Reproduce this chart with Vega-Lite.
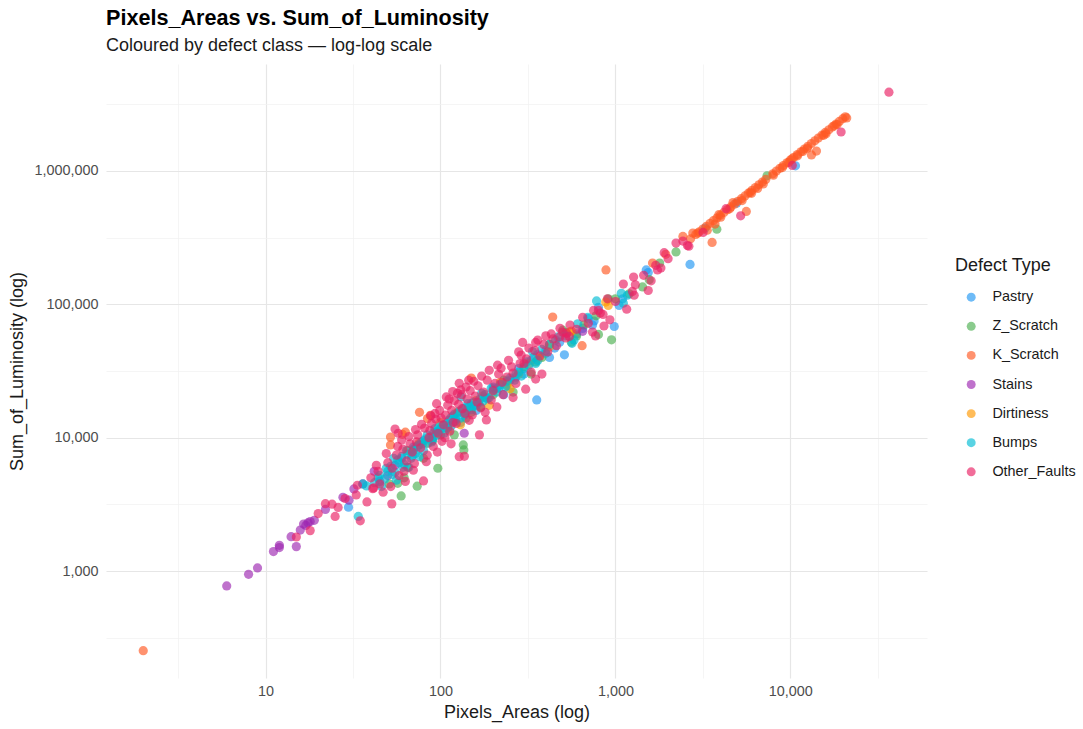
{
  "$schema": "https://vega.github.io/schema/vega-lite/v6.json",
  "width": 821,
  "height": 614,
  "autosize": {"type": "none"},
  "padding": {"left": 106, "top": 64, "right": 156, "bottom": 51},
  "background": "white",
  "title": {
    "text": "Pixels_Areas vs. Sum_of_Luminosity",
    "subtitle": "Coloured by defect class — log-log scale",
    "anchor": "start",
    "frame": "group",
    "offset": 9,
    "font": "Liberation Sans",
    "fontSize": 21.6,
    "fontWeight": "bold",
    "color": "#000000",
    "subtitleFont": "Liberation Sans",
    "subtitleFontSize": 18,
    "subtitleColor": "#1a1a1a",
    "subtitlePadding": 7
  },
  "config": {
    "view": {"stroke": null},
    "axis": {
      "domain": false,
      "ticks": false,
      "labelFont": "Liberation Sans",
      "labelFontSize": 14.4,
      "labelColor": "#4d4d4d",
      "titleFont": "Liberation Sans",
      "titleFontSize": 18,
      "titleFontWeight": "normal",
      "titleColor": "#1a1a1a",
      "labelOverlap": false,
      "labelFlush": false
    }
  },
  "data": {
    "values": [
      {"area": 29.8, "lum": 3010, "type": "Pastry"},
      {"area": 355, "lum": 19200, "type": "Pastry"},
      {"area": 511, "lum": 41800, "type": "Pastry"},
      {"area": 985, "lum": 68200, "type": "Pastry"},
      {"area": 755, "lum": 75000, "type": "Pastry"},
      {"area": 740, "lum": 70000, "type": "Pastry"},
      {"area": 1500, "lum": 181000, "type": "Pastry"},
      {"area": 1540, "lum": 173000, "type": "Pastry"},
      {"area": 2670, "lum": 199000, "type": "Pastry"},
      {"area": 3260, "lum": 373000, "type": "Pastry"},
      {"area": 4930, "lum": 574000, "type": "Pastry"},
      {"area": 10700, "lum": 1094000, "type": "Pastry"},
      {"area": 120, "lum": 15000, "type": "Pastry"},
      {"area": 150, "lum": 18000, "type": "Pastry"},
      {"area": 180, "lum": 20000, "type": "Pastry"},
      {"area": 200, "lum": 24000, "type": "Pastry"},
      {"area": 250, "lum": 27000, "type": "Pastry"},
      {"area": 280, "lum": 33000, "type": "Pastry"},
      {"area": 300, "lum": 30000, "type": "Pastry"},
      {"area": 330, "lum": 38000, "type": "Pastry"},
      {"area": 400, "lum": 45000, "type": "Pastry"},
      {"area": 420, "lum": 40000, "type": "Pastry"},
      {"area": 450, "lum": 47000, "type": "Pastry"},
      {"area": 480, "lum": 52000, "type": "Pastry"},
      {"area": 600, "lum": 60000, "type": "Pastry"},
      {"area": 650, "lum": 66000, "type": "Pastry"},
      {"area": 700, "lum": 78000, "type": "Pastry"},
      {"area": 800, "lum": 95000, "type": "Pastry"},
      {"area": 1100, "lum": 110000, "type": "Pastry"},
      {"area": 1050, "lum": 98000, "type": "Pastry"},
      {"area": 95, "lum": 11000, "type": "Pastry"},
      {"area": 80, "lum": 9500, "type": "Pastry"},
      {"area": 60, "lum": 7000, "type": "Pastry"},
      {"area": 70, "lum": 8500, "type": "Pastry"},
      {"area": 110, "lum": 12500, "type": "Pastry"},
      {"area": 130, "lum": 13000, "type": "Pastry"},
      {"area": 230, "lum": 21000, "type": "Pastry"},
      {"area": 160, "lum": 16000, "type": "Pastry"},
      {"area": 90, "lum": 10000, "type": "Pastry"},
      {"area": 140, "lum": 16800, "type": "Pastry"},
      {"area": 210, "lum": 23500, "type": "Pastry"},
      {"area": 270, "lum": 28500, "type": "Pastry"},
      {"area": 360, "lum": 42000, "type": "Pastry"},

      {"area": 59.6, "lum": 3660, "type": "Z_Scratch"},
      {"area": 73.6, "lum": 4330, "type": "Z_Scratch"},
      {"area": 96.6, "lum": 5900, "type": "Z_Scratch"},
      {"area": 135, "lum": 8830, "type": "Z_Scratch"},
      {"area": 136, "lum": 8100, "type": "Z_Scratch"},
      {"area": 500, "lum": 64000, "type": "Z_Scratch"},
      {"area": 950, "lum": 54200, "type": "Z_Scratch"},
      {"area": 775, "lum": 82000, "type": "Z_Scratch"},
      {"area": 800, "lum": 59500, "type": "Z_Scratch"},
      {"area": 520, "lum": 61500, "type": "Z_Scratch"},
      {"area": 1560, "lum": 153000, "type": "Z_Scratch"},
      {"area": 1430, "lum": 135000, "type": "Z_Scratch"},
      {"area": 910, "lum": 110000, "type": "Z_Scratch"},
      {"area": 1790, "lum": 204000, "type": "Z_Scratch"},
      {"area": 2220, "lum": 247000, "type": "Z_Scratch"},
      {"area": 3800, "lum": 366000, "type": "Z_Scratch"},
      {"area": 7360, "lum": 920000, "type": "Z_Scratch"},
      {"area": 51, "lum": 4500, "type": "Z_Scratch"},
      {"area": 57, "lum": 4550, "type": "Z_Scratch"},
      {"area": 70, "lum": 8000, "type": "Z_Scratch"},
      {"area": 90, "lum": 9500, "type": "Z_Scratch"},
      {"area": 110, "lum": 12000, "type": "Z_Scratch"},
      {"area": 140, "lum": 14000, "type": "Z_Scratch"},
      {"area": 170, "lum": 17000, "type": "Z_Scratch"},
      {"area": 200, "lum": 21000, "type": "Z_Scratch"},
      {"area": 240, "lum": 24500, "type": "Z_Scratch"},
      {"area": 260, "lum": 22000, "type": "Z_Scratch"},
      {"area": 300, "lum": 34000, "type": "Z_Scratch"},
      {"area": 330, "lum": 30000, "type": "Z_Scratch"},
      {"area": 380, "lum": 40000, "type": "Z_Scratch"},
      {"area": 420, "lum": 50000, "type": "Z_Scratch"},
      {"area": 560, "lum": 52000, "type": "Z_Scratch"},
      {"area": 600, "lum": 58000, "type": "Z_Scratch"},
      {"area": 660, "lum": 70000, "type": "Z_Scratch"},
      {"area": 1000, "lum": 110000, "type": "Z_Scratch"},
      {"area": 1200, "lum": 120000, "type": "Z_Scratch"},
      {"area": 80, "lum": 7000, "type": "Z_Scratch"},
      {"area": 65, "lum": 6000, "type": "Z_Scratch"},
      {"area": 120, "lum": 10500, "type": "Z_Scratch"},
      {"area": 100, "lum": 10500, "type": "Z_Scratch"},
      {"area": 150, "lum": 15500, "type": "Z_Scratch"},
      {"area": 230, "lum": 27000, "type": "Z_Scratch"},
      {"area": 350, "lum": 37000, "type": "Z_Scratch"},
      {"area": 75, "lum": 8800, "type": "Z_Scratch"},
      {"area": 62, "lum": 5000, "type": "Z_Scratch"},

      {"area": 2, "lum": 253, "type": "K_Scratch"},
      {"area": 51.8, "lum": 8830, "type": "K_Scratch"},
      {"area": 51.8, "lum": 10100, "type": "K_Scratch"},
      {"area": 63, "lum": 11000, "type": "K_Scratch"},
      {"area": 60.6, "lum": 10600, "type": "K_Scratch"},
      {"area": 75.9, "lum": 15500, "type": "K_Scratch"},
      {"area": 87.6, "lum": 14700, "type": "K_Scratch"},
      {"area": 84.3, "lum": 13900, "type": "K_Scratch"},
      {"area": 150, "lum": 28000, "type": "K_Scratch"},
      {"area": 438, "lum": 80200, "type": "K_Scratch"},
      {"area": 645, "lum": 49000, "type": "K_Scratch"},
      {"area": 883, "lum": 181000, "type": "K_Scratch"},
      {"area": 1630, "lum": 204000, "type": "K_Scratch"},
      {"area": 1940, "lum": 237000, "type": "K_Scratch"},
      {"area": 2430, "lum": 323000, "type": "K_Scratch"},
      {"area": 2770, "lum": 342000, "type": "K_Scratch"},
      {"area": 2960, "lum": 342000, "type": "K_Scratch"},
      {"area": 3570, "lum": 291000, "type": "K_Scratch"},
      {"area": 2690, "lum": 310000, "type": "K_Scratch"},
      {"area": 2880, "lum": 334000, "type": "K_Scratch"},
      {"area": 3020, "lum": 350000, "type": "K_Scratch"},
      {"area": 3160, "lum": 367000, "type": "K_Scratch"},
      {"area": 3310, "lum": 385000, "type": "K_Scratch"},
      {"area": 3470, "lum": 404000, "type": "K_Scratch"},
      {"area": 3630, "lum": 424000, "type": "K_Scratch"},
      {"area": 3800, "lum": 444000, "type": "K_Scratch"},
      {"area": 3980, "lum": 466000, "type": "K_Scratch"},
      {"area": 4170, "lum": 489000, "type": "K_Scratch"},
      {"area": 4370, "lum": 513000, "type": "K_Scratch"},
      {"area": 4570, "lum": 537000, "type": "K_Scratch"},
      {"area": 4790, "lum": 564000, "type": "K_Scratch"},
      {"area": 5010, "lum": 592000, "type": "K_Scratch"},
      {"area": 5250, "lum": 620000, "type": "K_Scratch"},
      {"area": 5500, "lum": 650000, "type": "K_Scratch"},
      {"area": 5750, "lum": 682000, "type": "K_Scratch"},
      {"area": 6030, "lum": 716000, "type": "K_Scratch"},
      {"area": 6310, "lum": 750000, "type": "K_Scratch"},
      {"area": 6610, "lum": 787000, "type": "K_Scratch"},
      {"area": 6920, "lum": 826000, "type": "K_Scratch"},
      {"area": 7240, "lum": 865000, "type": "K_Scratch"},
      {"area": 7940, "lum": 952000, "type": "K_Scratch"},
      {"area": 8320, "lum": 998000, "type": "K_Scratch"},
      {"area": 8710, "lum": 1047000, "type": "K_Scratch"},
      {"area": 9120, "lum": 1099000, "type": "K_Scratch"},
      {"area": 9550, "lum": 1151000, "type": "K_Scratch"},
      {"area": 10000, "lum": 1208000, "type": "K_Scratch"},
      {"area": 10470, "lum": 1265000, "type": "K_Scratch"},
      {"area": 10960, "lum": 1328000, "type": "K_Scratch"},
      {"area": 11480, "lum": 1393000, "type": "K_Scratch"},
      {"area": 12020, "lum": 1459000, "type": "K_Scratch"},
      {"area": 12590, "lum": 1531000, "type": "K_Scratch"},
      {"area": 13180, "lum": 1607000, "type": "K_Scratch"},
      {"area": 13800, "lum": 1683000, "type": "K_Scratch"},
      {"area": 14450, "lum": 1766000, "type": "K_Scratch"},
      {"area": 15140, "lum": 1854000, "type": "K_Scratch"},
      {"area": 15850, "lum": 1945000, "type": "K_Scratch"},
      {"area": 16600, "lum": 2037000, "type": "K_Scratch"},
      {"area": 17380, "lum": 2138000, "type": "K_Scratch"},
      {"area": 18200, "lum": 2244000, "type": "K_Scratch"},
      {"area": 19050, "lum": 2350000, "type": "K_Scratch"},
      {"area": 19950, "lum": 2466000, "type": "K_Scratch"},
      {"area": 20600, "lum": 2550000, "type": "K_Scratch"},
      {"area": 3710, "lum": 400000, "type": "K_Scratch"},
      {"area": 13200, "lum": 1320000, "type": "K_Scratch"},
      {"area": 14100, "lum": 1410000, "type": "K_Scratch"},
      {"area": 5600, "lum": 497000, "type": "K_Scratch"},
      {"area": 5300, "lum": 600000, "type": "K_Scratch"},
      {"area": 6500, "lum": 740000, "type": "K_Scratch"},
      {"area": 7000, "lum": 800000, "type": "K_Scratch"},
      {"area": 9000, "lum": 1060000, "type": "K_Scratch"},
      {"area": 11000, "lum": 1300000, "type": "K_Scratch"},
      {"area": 12500, "lum": 1480000, "type": "K_Scratch"},
      {"area": 16000, "lum": 1900000, "type": "K_Scratch"},
      {"area": 18500, "lum": 2230000, "type": "K_Scratch"},
      {"area": 4000, "lum": 450000, "type": "K_Scratch"},
      {"area": 4500, "lum": 520000, "type": "K_Scratch"},
      {"area": 3900, "lum": 470000, "type": "K_Scratch"},
      {"area": 4700, "lum": 580000, "type": "K_Scratch"},
      {"area": 5900, "lum": 690000, "type": "K_Scratch"},
      {"area": 8000, "lum": 930000, "type": "K_Scratch"},
      {"area": 9800, "lum": 1160000, "type": "K_Scratch"},
      {"area": 11800, "lum": 1400000, "type": "K_Scratch"},
      {"area": 15500, "lum": 1850000, "type": "K_Scratch"},
      {"area": 17800, "lum": 2180000, "type": "K_Scratch"},
      {"area": 21000, "lum": 2500000, "type": "K_Scratch"},
      {"area": 3350, "lum": 360000, "type": "K_Scratch"},
      {"area": 6000, "lum": 680000, "type": "K_Scratch"},
      {"area": 10200, "lum": 1230000, "type": "K_Scratch"},

      {"area": 6, "lum": 773, "type": "Stains"},
      {"area": 8, "lum": 946, "type": "Stains"},
      {"area": 9, "lum": 1055, "type": "Stains"},
      {"area": 11.1, "lum": 1400, "type": "Stains"},
      {"area": 12, "lum": 1560, "type": "Stains"},
      {"area": 12, "lum": 1500, "type": "Stains"},
      {"area": 15, "lum": 1525, "type": "Stains"},
      {"area": 14, "lum": 1810, "type": "Stains"},
      {"area": 15.8, "lum": 2030, "type": "Stains"},
      {"area": 17, "lum": 2200, "type": "Stains"},
      {"area": 17.5, "lum": 2300, "type": "Stains"},
      {"area": 16.5, "lum": 2250, "type": "Stains"},
      {"area": 22, "lum": 2900, "type": "Stains"},
      {"area": 27.7, "lum": 3570, "type": "Stains"},
      {"area": 32, "lum": 4130, "type": "Stains"},
      {"area": 41.8, "lum": 5600, "type": "Stains"},
      {"area": 136.7, "lum": 10800, "type": "Stains"},
      {"area": 650, "lum": 62800, "type": "Stains"},
      {"area": 36, "lum": 4500, "type": "Stains"},
      {"area": 50, "lum": 5200, "type": "Stains"},
      {"area": 30, "lum": 3400, "type": "Stains"},
      {"area": 19, "lum": 2400, "type": "Stains"},
      {"area": 18, "lum": 2350, "type": "Stains"},
      {"area": 45, "lum": 4700, "type": "Stains"},
      {"area": 55, "lum": 6200, "type": "Stains"},

      {"area": 910, "lum": 98000, "type": "Dirtiness"},
      {"area": 560, "lum": 63000, "type": "Dirtiness"},
      {"area": 84, "lum": 9100, "type": "Dirtiness"},
      {"area": 125, "lum": 15500, "type": "Dirtiness"},
      {"area": 364, "lum": 39500, "type": "Dirtiness"},
      {"area": 550, "lum": 62000, "type": "Dirtiness"},
      {"area": 250, "lum": 23300, "type": "Dirtiness"},
      {"area": 100, "lum": 13000, "type": "Dirtiness"},
      {"area": 110, "lum": 11500, "type": "Dirtiness"},
      {"area": 140, "lum": 16000, "type": "Dirtiness"},
      {"area": 160, "lum": 19000, "type": "Dirtiness"},
      {"area": 190, "lum": 17500, "type": "Dirtiness"},
      {"area": 220, "lum": 26000, "type": "Dirtiness"},
      {"area": 280, "lum": 30000, "type": "Dirtiness"},
      {"area": 320, "lum": 36000, "type": "Dirtiness"},
      {"area": 420, "lum": 48000, "type": "Dirtiness"},
      {"area": 75, "lum": 9000, "type": "Dirtiness"},
      {"area": 65, "lum": 8000, "type": "Dirtiness"},
      {"area": 130, "lum": 12500, "type": "Dirtiness"},
      {"area": 880, "lum": 104000, "type": "Dirtiness"},
      {"area": 95, "lum": 10800, "type": "Dirtiness"},
      {"area": 175, "lum": 20500, "type": "Dirtiness"},
      {"area": 240, "lum": 25500, "type": "Dirtiness"},

      {"area": 33.9, "lum": 2570, "type": "Bumps"},
      {"area": 37.8, "lum": 4350, "type": "Bumps"},
      {"area": 36, "lum": 4500, "type": "Bumps"},
      {"area": 131, "lum": 20200, "type": "Bumps"},
      {"area": 336, "lum": 44300, "type": "Bumps"},
      {"area": 609, "lum": 71400, "type": "Bumps"},
      {"area": 1080, "lum": 121000, "type": "Bumps"},
      {"area": 1110, "lum": 102000, "type": "Bumps"},
      {"area": 780, "lum": 106000, "type": "Bumps"},
      {"area": 695, "lum": 80000, "type": "Bumps"},
      {"area": 455, "lum": 54000, "type": "Bumps"},
      {"area": 580, "lum": 54000, "type": "Bumps"},
      {"area": 565, "lum": 51000, "type": "Bumps"},
      {"area": 1170, "lum": 117000, "type": "Bumps"},
      {"area": 42, "lum": 4600, "type": "Bumps"},
      {"area": 45, "lum": 5200, "type": "Bumps"},
      {"area": 48, "lum": 4900, "type": "Bumps"},
      {"area": 50, "lum": 5600, "type": "Bumps"},
      {"area": 52, "lum": 6100, "type": "Bumps"},
      {"area": 55, "lum": 5500, "type": "Bumps"},
      {"area": 58, "lum": 6500, "type": "Bumps"},
      {"area": 60, "lum": 7200, "type": "Bumps"},
      {"area": 62, "lum": 6300, "type": "Bumps"},
      {"area": 65, "lum": 7500, "type": "Bumps"},
      {"area": 68, "lum": 7000, "type": "Bumps"},
      {"area": 70, "lum": 8200, "type": "Bumps"},
      {"area": 72, "lum": 7600, "type": "Bumps"},
      {"area": 75, "lum": 8800, "type": "Bumps"},
      {"area": 78, "lum": 9300, "type": "Bumps"},
      {"area": 80, "lum": 8000, "type": "Bumps"},
      {"area": 82, "lum": 9800, "type": "Bumps"},
      {"area": 85, "lum": 9100, "type": "Bumps"},
      {"area": 88, "lum": 10200, "type": "Bumps"},
      {"area": 90, "lum": 9600, "type": "Bumps"},
      {"area": 92, "lum": 11000, "type": "Bumps"},
      {"area": 95, "lum": 10400, "type": "Bumps"},
      {"area": 98, "lum": 12000, "type": "Bumps"},
      {"area": 100, "lum": 11500, "type": "Bumps"},
      {"area": 105, "lum": 10800, "type": "Bumps"},
      {"area": 108, "lum": 12800, "type": "Bumps"},
      {"area": 112, "lum": 13500, "type": "Bumps"},
      {"area": 115, "lum": 12200, "type": "Bumps"},
      {"area": 118, "lum": 14500, "type": "Bumps"},
      {"area": 122, "lum": 13800, "type": "Bumps"},
      {"area": 125, "lum": 15200, "type": "Bumps"},
      {"area": 130, "lum": 14000, "type": "Bumps"},
      {"area": 135, "lum": 16500, "type": "Bumps"},
      {"area": 140, "lum": 15500, "type": "Bumps"},
      {"area": 145, "lum": 17000, "type": "Bumps"},
      {"area": 150, "lum": 16200, "type": "Bumps"},
      {"area": 155, "lum": 18500, "type": "Bumps"},
      {"area": 160, "lum": 17500, "type": "Bumps"},
      {"area": 168, "lum": 19500, "type": "Bumps"},
      {"area": 175, "lum": 18800, "type": "Bumps"},
      {"area": 180, "lum": 21000, "type": "Bumps"},
      {"area": 190, "lum": 20000, "type": "Bumps"},
      {"area": 200, "lum": 23000, "type": "Bumps"},
      {"area": 210, "lum": 22000, "type": "Bumps"},
      {"area": 220, "lum": 25000, "type": "Bumps"},
      {"area": 235, "lum": 24000, "type": "Bumps"},
      {"area": 250, "lum": 28000, "type": "Bumps"},
      {"area": 265, "lum": 27000, "type": "Bumps"},
      {"area": 280, "lum": 31000, "type": "Bumps"},
      {"area": 300, "lum": 33000, "type": "Bumps"},
      {"area": 320, "lum": 35000, "type": "Bumps"},
      {"area": 340, "lum": 40000, "type": "Bumps"},
      {"area": 360, "lum": 38000, "type": "Bumps"},
      {"area": 380, "lum": 46000, "type": "Bumps"},
      {"area": 420, "lum": 50000, "type": "Bumps"},
      {"area": 470, "lum": 57000, "type": "Bumps"},
      {"area": 520, "lum": 58000, "type": "Bumps"},
      {"area": 56, "lum": 4800, "type": "Bumps"},
      {"area": 66, "lum": 6000, "type": "Bumps"},
      {"area": 76, "lum": 7200, "type": "Bumps"},
      {"area": 46, "lum": 4300, "type": "Bumps"},
      {"area": 54, "lum": 7000, "type": "Bumps"},
      {"area": 44, "lum": 5000, "type": "Bumps"},
      {"area": 49, "lum": 5900, "type": "Bumps"},
      {"area": 53, "lum": 5300, "type": "Bumps"},
      {"area": 57, "lum": 6800, "type": "Bumps"},
      {"area": 61, "lum": 6000, "type": "Bumps"},
      {"area": 64, "lum": 8000, "type": "Bumps"},
      {"area": 69, "lum": 7300, "type": "Bumps"},
      {"area": 73, "lum": 8500, "type": "Bumps"},
      {"area": 79, "lum": 9000, "type": "Bumps"},
      {"area": 84, "lum": 10500, "type": "Bumps"},
      {"area": 89, "lum": 9300, "type": "Bumps"},
      {"area": 93, "lum": 11700, "type": "Bumps"},
      {"area": 97, "lum": 11200, "type": "Bumps"},
      {"area": 103, "lum": 12400, "type": "Bumps"},
      {"area": 109, "lum": 11700, "type": "Bumps"},
      {"area": 114, "lum": 14000, "type": "Bumps"},
      {"area": 121, "lum": 13200, "type": "Bumps"},
      {"area": 128, "lum": 15800, "type": "Bumps"},
      {"area": 137, "lum": 14800, "type": "Bumps"},
      {"area": 143, "lum": 18000, "type": "Bumps"},
      {"area": 153, "lum": 17300, "type": "Bumps"},
      {"area": 165, "lum": 18300, "type": "Bumps"},
      {"area": 172, "lum": 21500, "type": "Bumps"},
      {"area": 185, "lum": 19600, "type": "Bumps"},
      {"area": 195, "lum": 23500, "type": "Bumps"},
      {"area": 215, "lum": 23500, "type": "Bumps"},
      {"area": 240, "lum": 26500, "type": "Bumps"},
      {"area": 270, "lum": 30000, "type": "Bumps"},
      {"area": 290, "lum": 29000, "type": "Bumps"},
      {"area": 310, "lum": 37000, "type": "Bumps"},
      {"area": 350, "lum": 36000, "type": "Bumps"},
      {"area": 400, "lum": 43000, "type": "Bumps"},

      {"area": 15, "lum": 1800, "type": "Other_Faults"},
      {"area": 18, "lum": 2010, "type": "Other_Faults"},
      {"area": 24, "lum": 3170, "type": "Other_Faults"},
      {"area": 25, "lum": 2570, "type": "Other_Faults"},
      {"area": 28.5, "lum": 3500, "type": "Other_Faults"},
      {"area": 33, "lum": 3720, "type": "Other_Faults"},
      {"area": 33.5, "lum": 4400, "type": "Other_Faults"},
      {"area": 34.8, "lum": 2380, "type": "Other_Faults"},
      {"area": 41, "lum": 4150, "type": "Other_Faults"},
      {"area": 52.7, "lum": 3190, "type": "Other_Faults"},
      {"area": 80, "lum": 4740, "type": "Other_Faults"},
      {"area": 45, "lum": 4500, "type": "Other_Faults"},
      {"area": 41.5, "lum": 4200, "type": "Other_Faults"},
      {"area": 55, "lum": 11600, "type": "Other_Faults"},
      {"area": 57.3, "lum": 10800, "type": "Other_Faults"},
      {"area": 128, "lum": 25600, "type": "Other_Faults"},
      {"area": 130.7, "lum": 22800, "type": "Other_Faults"},
      {"area": 108, "lum": 20200, "type": "Other_Faults"},
      {"area": 117.5, "lum": 22200, "type": "Other_Faults"},
      {"area": 167, "lum": 10500, "type": "Other_Faults"},
      {"area": 128, "lum": 7200, "type": "Other_Faults"},
      {"area": 137, "lum": 7250, "type": "Other_Faults"},
      {"area": 115, "lum": 9000, "type": "Other_Faults"},
      {"area": 183, "lum": 13600, "type": "Other_Faults"},
      {"area": 295, "lum": 51800, "type": "Other_Faults"},
      {"area": 350, "lum": 51800, "type": "Other_Faults"},
      {"area": 350, "lum": 27500, "type": "Other_Faults"},
      {"area": 307, "lum": 23100, "type": "Other_Faults"},
      {"area": 289, "lum": 41600, "type": "Other_Faults"},
      {"area": 222, "lum": 33200, "type": "Other_Faults"},
      {"area": 482, "lum": 66100, "type": "Other_Faults"},
      {"area": 527, "lum": 60500, "type": "Other_Faults"},
      {"area": 1110, "lum": 142000, "type": "Other_Faults"},
      {"area": 1270, "lum": 160000, "type": "Other_Faults"},
      {"area": 1540, "lum": 127000, "type": "Other_Faults"},
      {"area": 1250, "lum": 125000, "type": "Other_Faults"},
      {"area": 1280, "lum": 117000, "type": "Other_Faults"},
      {"area": 1160, "lum": 92000, "type": "Other_Faults"},
      {"area": 930, "lum": 76500, "type": "Other_Faults"},
      {"area": 860, "lum": 68800, "type": "Other_Faults"},
      {"area": 800, "lum": 90000, "type": "Other_Faults"},
      {"area": 820, "lum": 86000, "type": "Other_Faults"},
      {"area": 850, "lum": 84000, "type": "Other_Faults"},
      {"area": 740, "lum": 62000, "type": "Other_Faults"},
      {"area": 770, "lum": 58000, "type": "Other_Faults"},
      {"area": 520, "lum": 56000, "type": "Other_Faults"},
      {"area": 545, "lum": 57500, "type": "Other_Faults"},
      {"area": 2220, "lum": 288000, "type": "Other_Faults"},
      {"area": 2580, "lum": 276000, "type": "Other_Faults"},
      {"area": 1900, "lum": 244000, "type": "Other_Faults"},
      {"area": 1740, "lum": 181000, "type": "Other_Faults"},
      {"area": 1700, "lum": 196000, "type": "Other_Faults"},
      {"area": 1820, "lum": 187000, "type": "Other_Faults"},
      {"area": 4290, "lum": 521000, "type": "Other_Faults"},
      {"area": 5200, "lum": 461000, "type": "Other_Faults"},
      {"area": 2630, "lum": 273000, "type": "Other_Faults"},
      {"area": 2430, "lum": 298000, "type": "Other_Faults"},
      {"area": 3170, "lum": 346000, "type": "Other_Faults"},
      {"area": 10260, "lum": 1100000, "type": "Other_Faults"},
      {"area": 19500, "lum": 1960000, "type": "Other_Faults"},
      {"area": 36600, "lum": 3900000, "type": "Other_Faults"},
      {"area": 40, "lum": 5000, "type": "Other_Faults"},
      {"area": 44, "lum": 5600, "type": "Other_Faults"},
      {"area": 47, "lum": 3900, "type": "Other_Faults"},
      {"area": 50, "lum": 6500, "type": "Other_Faults"},
      {"area": 53, "lum": 5900, "type": "Other_Faults"},
      {"area": 56, "lum": 7400, "type": "Other_Faults"},
      {"area": 58, "lum": 5200, "type": "Other_Faults"},
      {"area": 61, "lum": 8200, "type": "Other_Faults"},
      {"area": 64, "lum": 6700, "type": "Other_Faults"},
      {"area": 67, "lum": 9000, "type": "Other_Faults"},
      {"area": 69, "lum": 7800, "type": "Other_Faults"},
      {"area": 71, "lum": 6400, "type": "Other_Faults"},
      {"area": 74, "lum": 10500, "type": "Other_Faults"},
      {"area": 77, "lum": 8400, "type": "Other_Faults"},
      {"area": 81, "lum": 11800, "type": "Other_Faults"},
      {"area": 84, "lum": 7400, "type": "Other_Faults"},
      {"area": 86, "lum": 10000, "type": "Other_Faults"},
      {"area": 89, "lum": 12800, "type": "Other_Faults"},
      {"area": 91, "lum": 8600, "type": "Other_Faults"},
      {"area": 94, "lum": 13800, "type": "Other_Faults"},
      {"area": 97, "lum": 10800, "type": "Other_Faults"},
      {"area": 99, "lum": 16000, "type": "Other_Faults"},
      {"area": 102, "lum": 9400, "type": "Other_Faults"},
      {"area": 104, "lum": 12500, "type": "Other_Faults"},
      {"area": 107, "lum": 14800, "type": "Other_Faults"},
      {"area": 110, "lum": 17500, "type": "Other_Faults"},
      {"area": 113, "lum": 11200, "type": "Other_Faults"},
      {"area": 116, "lum": 16000, "type": "Other_Faults"},
      {"area": 120, "lum": 19000, "type": "Other_Faults"},
      {"area": 123, "lum": 12800, "type": "Other_Faults"},
      {"area": 127, "lum": 17800, "type": "Other_Faults"},
      {"area": 132, "lum": 21000, "type": "Other_Faults"},
      {"area": 138, "lum": 15200, "type": "Other_Faults"},
      {"area": 142, "lum": 19500, "type": "Other_Faults"},
      {"area": 148, "lum": 22500, "type": "Other_Faults"},
      {"area": 152, "lum": 14800, "type": "Other_Faults"},
      {"area": 158, "lum": 20500, "type": "Other_Faults"},
      {"area": 164, "lum": 24500, "type": "Other_Faults"},
      {"area": 170, "lum": 16800, "type": "Other_Faults"},
      {"area": 176, "lum": 22000, "type": "Other_Faults"},
      {"area": 185, "lum": 27000, "type": "Other_Faults"},
      {"area": 195, "lum": 19200, "type": "Other_Faults"},
      {"area": 205, "lum": 25500, "type": "Other_Faults"},
      {"area": 215, "lum": 30000, "type": "Other_Faults"},
      {"area": 228, "lum": 21000, "type": "Other_Faults"},
      {"area": 240, "lum": 28500, "type": "Other_Faults"},
      {"area": 255, "lum": 34000, "type": "Other_Faults"},
      {"area": 270, "lum": 25500, "type": "Other_Faults"},
      {"area": 285, "lum": 36000, "type": "Other_Faults"},
      {"area": 310, "lum": 39000, "type": "Other_Faults"},
      {"area": 330, "lum": 31000, "type": "Other_Faults"},
      {"area": 345, "lum": 45000, "type": "Other_Faults"},
      {"area": 370, "lum": 41000, "type": "Other_Faults"},
      {"area": 390, "lum": 50000, "type": "Other_Faults"},
      {"area": 410, "lum": 44000, "type": "Other_Faults"},
      {"area": 440, "lum": 55000, "type": "Other_Faults"},
      {"area": 460, "lum": 49000, "type": "Other_Faults"},
      {"area": 500, "lum": 62000, "type": "Other_Faults"},
      {"area": 550, "lum": 70000, "type": "Other_Faults"},
      {"area": 600, "lum": 65000, "type": "Other_Faults"},
      {"area": 650, "lum": 80000, "type": "Other_Faults"},
      {"area": 700, "lum": 72000, "type": "Other_Faults"},
      {"area": 750, "lum": 90000, "type": "Other_Faults"},
      {"area": 900, "lum": 110000, "type": "Other_Faults"},
      {"area": 1000, "lum": 105000, "type": "Other_Faults"},
      {"area": 1300, "lum": 140000, "type": "Other_Faults"},
      {"area": 1450, "lum": 165000, "type": "Other_Faults"},
      {"area": 1600, "lum": 150000, "type": "Other_Faults"},
      {"area": 2000, "lum": 220000, "type": "Other_Faults"},
      {"area": 60, "lum": 9600, "type": "Other_Faults"},
      {"area": 72, "lum": 11500, "type": "Other_Faults"},
      {"area": 88, "lum": 14600, "type": "Other_Faults"},
      {"area": 20, "lum": 2700, "type": "Other_Faults"},
      {"area": 22, "lum": 3200, "type": "Other_Faults"},
      {"area": 26, "lum": 3000, "type": "Other_Faults"},
      {"area": 38, "lum": 3300, "type": "Other_Faults"},
      {"area": 43, "lum": 6200, "type": "Other_Faults"},
      {"area": 49, "lum": 7600, "type": "Other_Faults"},
      {"area": 52, "lum": 4300, "type": "Other_Faults"},
      {"area": 57, "lum": 8600, "type": "Other_Faults"},
      {"area": 62, "lum": 5600, "type": "Other_Faults"},
      {"area": 66, "lum": 10200, "type": "Other_Faults"},
      {"area": 70, "lum": 5700, "type": "Other_Faults"},
      {"area": 73, "lum": 9300, "type": "Other_Faults"},
      {"area": 78, "lum": 12600, "type": "Other_Faults"},
      {"area": 83, "lum": 6600, "type": "Other_Faults"},
      {"area": 87, "lum": 11300, "type": "Other_Faults"},
      {"area": 93, "lum": 15200, "type": "Other_Faults"},
      {"area": 96, "lum": 7800, "type": "Other_Faults"},
      {"area": 101, "lum": 14000, "type": "Other_Faults"},
      {"area": 106, "lum": 10000, "type": "Other_Faults"},
      {"area": 112, "lum": 19500, "type": "Other_Faults"},
      {"area": 118, "lum": 13000, "type": "Other_Faults"},
      {"area": 125, "lum": 21500, "type": "Other_Faults"},
      {"area": 133, "lum": 16500, "type": "Other_Faults"},
      {"area": 140, "lum": 24000, "type": "Other_Faults"},
      {"area": 146, "lum": 13500, "type": "Other_Faults"},
      {"area": 155, "lum": 26500, "type": "Other_Faults"},
      {"area": 162, "lum": 18500, "type": "Other_Faults"},
      {"area": 172, "lum": 29000, "type": "Other_Faults"},
      {"area": 180, "lum": 15500, "type": "Other_Faults"},
      {"area": 190, "lum": 32000, "type": "Other_Faults"},
      {"area": 200, "lum": 22500, "type": "Other_Faults"},
      {"area": 212, "lum": 35000, "type": "Other_Faults"},
      {"area": 225, "lum": 26000, "type": "Other_Faults"},
      {"area": 245, "lum": 38000, "type": "Other_Faults"},
      {"area": 260, "lum": 30500, "type": "Other_Faults"},
      {"area": 280, "lum": 44000, "type": "Other_Faults"},
      {"area": 300, "lum": 36000, "type": "Other_Faults"},
      {"area": 320, "lum": 47000, "type": "Other_Faults"},
      {"area": 360, "lum": 54000, "type": "Other_Faults"},
      {"area": 400, "lum": 58000, "type": "Other_Faults"},
      {"area": 430, "lum": 60000, "type": "Other_Faults"},
      {"area": 480, "lum": 57000, "type": "Other_Faults"},
      {"area": 63, "lum": 4700, "type": "Other_Faults"},
      {"area": 95, "lum": 18000, "type": "Other_Faults"},
      {"area": 145, "lum": 27000, "type": "Other_Faults"},
      {"area": 210, "lum": 17000, "type": "Other_Faults"},
      {"area": 260, "lum": 20000, "type": "Other_Faults"},
      {"area": 380, "lum": 30000, "type": "Other_Faults"}
    ]
  },
  "mark": {"type": "point", "filled": true, "opacity": 0.65, "size": 85, "strokeWidth": 0},
  "encoding": {
    "x": {
      "field": "area",
      "type": "quantitative",
      "title": "Pixels_Areas (log)",
      "scale": {"type": "log", "domain": [1.225, 60400], "nice": false, "zero": false},
      "axis": {
        "values": [3.1623, 10, 31.623, 100, 316.23, 1000, 3162.3, 10000, 31623],
        "labelExpr": "(datum.value == 10 || datum.value == 100 || datum.value == 1000 || datum.value == 10000) ? format(datum.value, ',') : ''",
        "gridColor": {"condition": {"test": "datum.value == 10 || datum.value == 100 || datum.value == 1000 || datum.value == 10000", "value": "#e6e6e6"}, "value": "#f0f0f0"},
        "gridWidth": {"condition": {"test": "datum.value == 10 || datum.value == 100 || datum.value == 1000 || datum.value == 10000", "value": 1.2}, "value": 0.7},
        "labelPadding": 6,
        "titlePadding": 6
      }
    },
    "y": {
      "field": "lum",
      "type": "quantitative",
      "title": "Sum_of_Luminosity (log)",
      "scale": {"type": "log", "domain": [157.8, 6340000], "nice": false, "zero": false},
      "axis": {
        "values": [316.23, 1000, 3162.3, 10000, 31623, 100000, 316228, 1000000, 3162278],
        "labelExpr": "(datum.value == 1000 || datum.value == 10000 || datum.value == 100000 || datum.value == 1000000) ? format(datum.value, ',') : ''",
        "gridColor": {"condition": {"test": "datum.value == 1000 || datum.value == 10000 || datum.value == 100000 || datum.value == 1000000", "value": "#e6e6e6"}, "value": "#f0f0f0"},
        "gridWidth": {"condition": {"test": "datum.value == 1000 || datum.value == 10000 || datum.value == 100000 || datum.value == 1000000", "value": 1.2}, "value": 0.7},
        "labelPadding": 8,
        "titlePadding": 7
      }
    },
    "color": {
      "field": "type",
      "type": "nominal",
      "scale": {
        "domain": ["Pastry", "Z_Scratch", "K_Scratch", "Stains", "Dirtiness", "Bumps", "Other_Faults"],
        "range": ["#2196F3", "#4CAF50", "#FF5722", "#9C27B0", "#FF9800", "#00BCD4", "#E91E63"]
      },
      "legend": {
        "title": "Defect Type",
        "orient": "none",
        "legendX": 849,
        "legendY": 193,
        "padding": 0,
        "titleFont": "Liberation Sans",
        "titleFontSize": 18,
        "titleFontWeight": "normal",
        "titleColor": "#1a1a1a",
        "titlePadding": 15,
        "labelFont": "Liberation Sans",
        "labelFontSize": 14.4,
        "labelColor": "#1a1a1a",
        "labelOffset": 14,
        "rowPadding": 14.1,
        "symbolType": "circle",
        "symbolSize": 80,
        "symbolOpacity": 0.65,
        "symbolStrokeWidth": 0,
        "symbolOffset": 9
      }
    }
  }
}
